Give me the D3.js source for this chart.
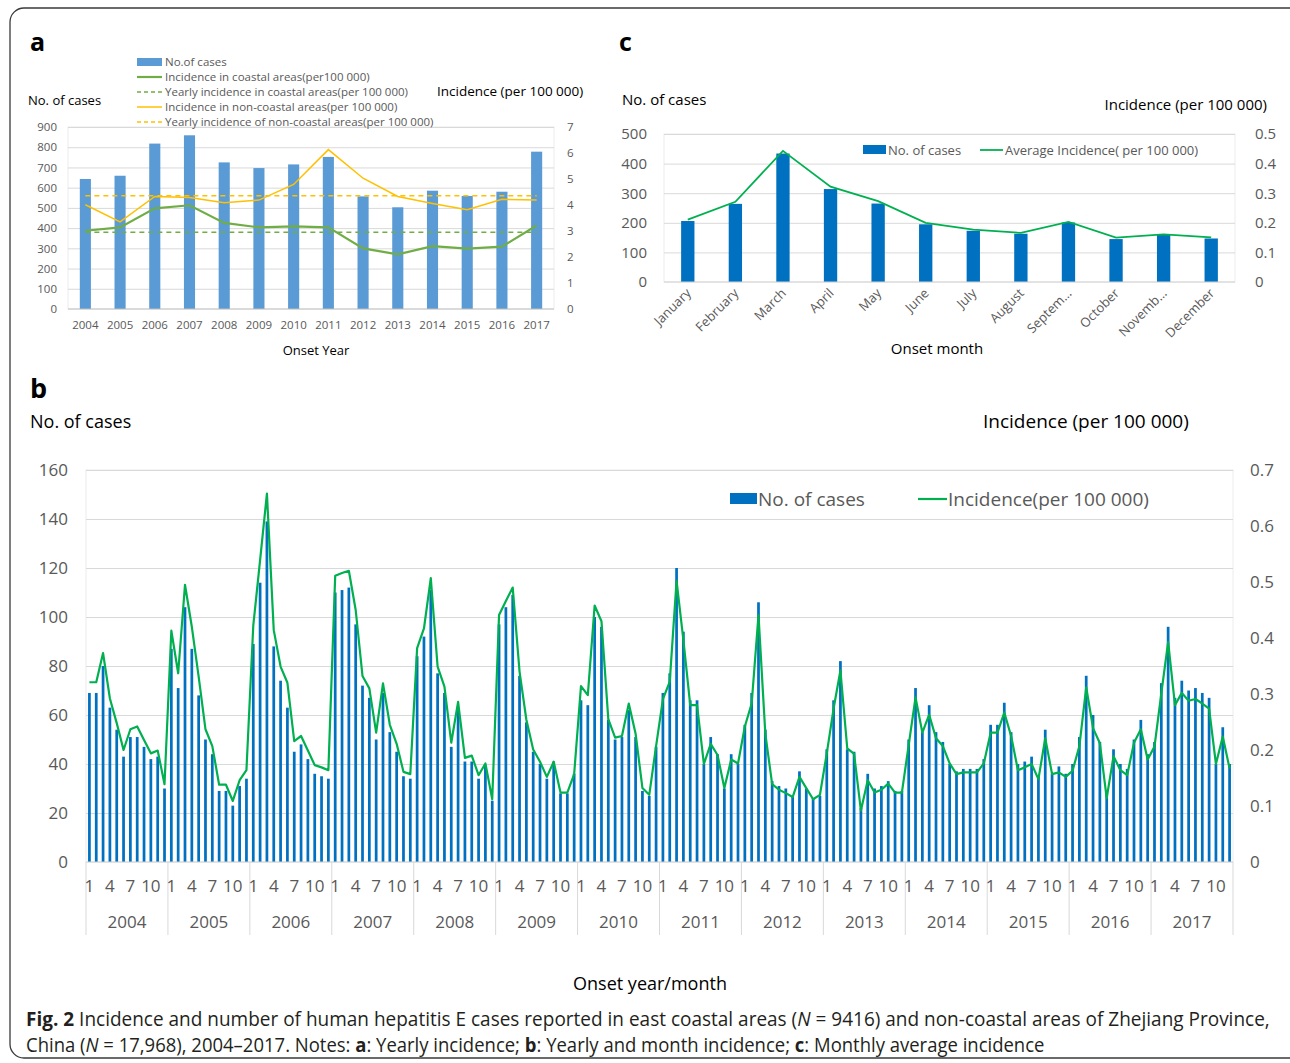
<!DOCTYPE html>
<html>
<head>
<meta charset="utf-8">
<script src="https://cdn.jsdelivr.net/npm/d3@7"></script>
<style>
body { margin: 0; background: #fff; }
text { font-family: "Open Sans", sans-serif; }
</style>
</head>
<body>
<svg id="fig" width="1290" height="1063"></svg>
<script>
// ---- panel a: yearly ----
const years = [2004, 2005, 2006, 2007, 2008, 2009, 2010, 2011, 2012, 2013, 2014, 2015, 2016, 2017];
const yearlyCases = [643, 659, 818, 859, 725, 697, 715, 752, 557, 503, 585, 559, 580, 778];
const coastalInc = [3.01, 3.14, 3.87, 3.99, 3.31, 3.14, 3.18, 3.14, 2.33, 2.10, 2.42, 2.32, 2.40, 3.21];
const nonCoastalInc = [4.01, 3.35, 4.33, 4.29, 4.09, 4.19, 4.79, 6.13, 5.03, 4.33, 4.06, 3.82, 4.22, 4.19];
const coastalYearly = 2.95;
const nonCoastalYearly = 4.36;
const legendA = [
  'No.of cases',
  'Incidence in coastal areas(per100 000)',
  'Yearly incidence in coastal areas(per 100 000)',
  'Incidence in non-coastal areas(per 100 000)',
  'Yearly incidence of non-coastal areas(per 100 000)',
];

// ---- panel c: monthly average ----
const monthNames = ['January', 'February', 'March', 'April', 'May', 'June', 'July', 'August', 'Septem…', 'October', 'Novemb…', 'December'];
const avgCases = [206, 264, 434, 314, 265, 195, 173, 163, 201, 145, 159, 147];
const avgInc = [0.211, 0.271, 0.443, 0.322, 0.273, 0.200, 0.177, 0.166, 0.203, 0.150, 0.161, 0.151];

// ---- panel b: month by month, one row per year ----
const monthlyCases = [
  [69, 69, 80, 63, 54, 43, 51, 51, 47, 42, 43, 30],
  [87, 71, 104, 87, 68, 50, 44, 29, 29, 23, 31, 34],
  [89, 114, 139, 88, 74, 63, 45, 48, 42, 36, 35, 34],
  [110, 111, 112, 97, 72, 67, 50, 69, 53, 45, 35, 34],
  [84, 92, 111, 77, 69, 47, 62, 41, 41, 34, 39, 25],
  [97, 104, 109, 76, 57, 45, 40, 34, 41, 28, 28, 36],
  [66, 64, 100, 96, 58, 50, 51, 62, 51, 29, 27, 47],
  [69, 77, 120, 94, 66, 66, 40, 51, 44, 30, 44, 40],
  [56, 69, 106, 54, 33, 31, 30, 27, 37, 30, 26, 27],
  [46, 66, 82, 46, 45, 22, 36, 30, 31, 33, 29, 29],
  [50, 71, 53, 64, 53, 49, 40, 37, 38, 38, 38, 42],
  [56, 56, 65, 53, 40, 41, 43, 35, 54, 36, 39, 36],
  [40, 51, 76, 60, 49, 29, 46, 40, 38, 50, 58, 44],
  [49, 73, 96, 67, 74, 70, 71, 69, 67, 40, 55, 40],
];
const monthlyInc = [
  [0.321, 0.321, 0.373, 0.292, 0.248, 0.200, 0.237, 0.242, 0.218, 0.194, 0.199, 0.139],
  [0.413, 0.337, 0.495, 0.420, 0.331, 0.237, 0.207, 0.138, 0.138, 0.109, 0.146, 0.164],
  [0.422, 0.539, 0.658, 0.414, 0.349, 0.320, 0.216, 0.225, 0.199, 0.173, 0.169, 0.164],
  [0.511, 0.516, 0.520, 0.450, 0.332, 0.310, 0.231, 0.319, 0.245, 0.211, 0.161, 0.157],
  [0.382, 0.417, 0.507, 0.349, 0.313, 0.213, 0.286, 0.186, 0.190, 0.155, 0.176, 0.112],
  [0.441, 0.466, 0.490, 0.340, 0.254, 0.201, 0.179, 0.152, 0.179, 0.124, 0.124, 0.157],
  [0.314, 0.298, 0.458, 0.430, 0.255, 0.222, 0.225, 0.283, 0.229, 0.132, 0.120, 0.207],
  [0.291, 0.322, 0.502, 0.396, 0.280, 0.280, 0.175, 0.211, 0.191, 0.132, 0.183, 0.176],
  [0.242, 0.283, 0.441, 0.229, 0.139, 0.129, 0.123, 0.116, 0.152, 0.132, 0.112, 0.120],
  [0.194, 0.274, 0.342, 0.203, 0.193, 0.092, 0.146, 0.124, 0.129, 0.140, 0.124, 0.124],
  [0.209, 0.294, 0.231, 0.263, 0.221, 0.207, 0.176, 0.157, 0.160, 0.160, 0.160, 0.176],
  [0.231, 0.231, 0.267, 0.225, 0.164, 0.169, 0.175, 0.148, 0.221, 0.157, 0.160, 0.152],
  [0.163, 0.207, 0.312, 0.239, 0.212, 0.114, 0.189, 0.164, 0.155, 0.213, 0.237, 0.183],
  [0.206, 0.301, 0.393, 0.280, 0.302, 0.288, 0.291, 0.283, 0.274, 0.175, 0.224, 0.167],
];
const monthTicks = [1, 4, 7, 10];

const svg = d3.select('#fig');
const gridColor = '#d9d9d9';
const labelColor = '#595959';

function styleAxis(g, size) {
  g.select('.domain').remove();
  g.selectAll('text').attr('fill', labelColor).style('font-size', size + 'px');
}

function drawGrid(g, y, values, left, right) {
  g.append('g')
    .attr('transform', `translate(${left},0)`)
    .call(d3.axisLeft(y).tickValues(values).tickSize(-(right - left)).tickFormat(''))
    .call((a) => a.select('.domain').remove())
    .selectAll('line').attr('stroke', gridColor);
}

function drawFrame(g, left, right, top, bottom) {
  g.append('rect')
    .attr('x', left).attr('y', top)
    .attr('width', right - left).attr('height', bottom - top)
    .attr('fill', 'none').attr('stroke', '#ececec');
}

function panelA() {
  const left = 68, right = 554, top = 127, bottom = 309;
  const g = svg.append('g');
  const x = d3.scaleBand().domain(years).range([left, right]).paddingInner(0.68).paddingOuter(0.34);
  const cx = (yr) => x(yr) + x.bandwidth() / 2;
  const y = d3.scaleLinear().domain([0, 900]).range([bottom, top]);
  const y2 = d3.scaleLinear().domain([0, 7]).range([bottom, top]);

  drawFrame(g, left, right, top, bottom);
  drawGrid(g, y, d3.range(100, 901, 100), left, right);

  g.selectAll('.barA').data(years).enter().append('rect')
    .attr('x', (d) => x(d))
    .attr('y', (d, i) => y(yearlyCases[i]))
    .attr('width', x.bandwidth())
    .attr('height', (d, i) => bottom - y(yearlyCases[i]))
    .attr('fill', '#5b9bd5');

  g.append('line').attr('x1', left).attr('x2', right).attr('y1', bottom).attr('y2', bottom).attr('stroke', '#bfbfbf');

  const line = (vals) => d3.line().x((d, i) => cx(years[i])).y((d) => y2(d))(vals);
  g.append('path').attr('d', line(years.map(() => coastalYearly)))
    .attr('fill', 'none').attr('stroke', '#70ad47').attr('stroke-width', 1.5).attr('stroke-dasharray', '5,4');
  g.append('path').attr('d', line(years.map(() => nonCoastalYearly)))
    .attr('fill', 'none').attr('stroke', '#ffc000').attr('stroke-width', 1.5).attr('stroke-dasharray', '5,4');
  g.append('path').attr('d', line(nonCoastalInc))
    .attr('fill', 'none').attr('stroke', '#ffc000').attr('stroke-width', 1.5);
  g.append('path').attr('d', line(coastalInc))
    .attr('fill', 'none').attr('stroke', '#70ad47').attr('stroke-width', 2.2);

  g.append('g').attr('transform', `translate(${left},0)`)
    .call(d3.axisLeft(y).tickValues(d3.range(0, 901, 100)).tickSize(0).tickPadding(11))
    .call((a) => styleAxis(a, 11.5));
  g.append('g').attr('transform', `translate(${right},0)`)
    .call(d3.axisRight(y2).tickValues(d3.range(0, 8)).tickSize(0).tickPadding(13).tickFormat(d3.format('d')))
    .call((a) => styleAxis(a, 11.5));
  g.append('g').attr('transform', `translate(0,${bottom})`)
    .call(d3.axisBottom(x).tickSize(0).tickPadding(12))
    .call((a) => styleAxis(a, 11.5));

  g.append('text').attr('x', 28).attr('y', 105).style('font-size', '13px').text('No. of cases');
  g.append('text').attr('x', 437).attr('y', 96).style('font-size', '13.5px').text('Incidence (per 100 000)');
  g.append('text').attr('x', 316).attr('y', 355).attr('text-anchor', 'middle').style('font-size', '13px').text('Onset Year');
  g.append('text').attr('x', 30).attr('y', 51).style('font-size', '25px').style('font-weight', 'bold').text('a');

  // legend
  const styles = [
    { type: 'rect', color: '#5b9bd5' },
    { type: 'line', color: '#70ad47', width: 2.2 },
    { type: 'line', color: '#70ad47', width: 1.5, dash: '4,3' },
    { type: 'line', color: '#ffc000', width: 1.5 },
    { type: 'line', color: '#ffc000', width: 1.5, dash: '4,3' },
  ];
  legendA.forEach((label, i) => {
    const yy = 62 + i * 15;
    const s = styles[i];
    if (s.type === 'rect') {
      g.append('rect').attr('x', 137).attr('y', yy - 4).attr('width', 25).attr('height', 8).attr('fill', s.color);
    } else {
      g.append('line').attr('x1', 137).attr('x2', 162).attr('y1', yy).attr('y2', yy)
        .attr('stroke', s.color).attr('stroke-width', s.width).attr('stroke-dasharray', s.dash || null);
    }
    g.append('text').attr('x', 165).attr('y', yy + 4).attr('fill', labelColor).style('font-size', '11.5px').text(label);
  });
}

function panelC() {
  const left = 664, right = 1235, top = 134, bottom = 282;
  const g = svg.append('g');
  const x = d3.scaleBand().domain(monthNames).range([left, right]).paddingInner(0.72).paddingOuter(0.36);
  const cx = (m) => x(m) + x.bandwidth() / 2;
  const y = d3.scaleLinear().domain([0, 500]).range([bottom, top]);
  const y2 = d3.scaleLinear().domain([0, 0.5]).range([bottom, top]);

  drawFrame(g, left, right, top, bottom);
  drawGrid(g, y, d3.range(100, 501, 100), left, right);

  g.selectAll('.barC').data(monthNames).enter().append('rect')
    .attr('x', (d) => x(d))
    .attr('y', (d, i) => y(avgCases[i]))
    .attr('width', x.bandwidth())
    .attr('height', (d, i) => bottom - y(avgCases[i]))
    .attr('fill', '#0070c0');
  g.append('line').attr('x1', left).attr('x2', right).attr('y1', bottom).attr('y2', bottom).attr('stroke', '#d0d0d0');

  g.append('path')
    .attr('d', d3.line().x((d, i) => cx(monthNames[i])).y((d) => y2(d))(avgInc))
    .attr('fill', 'none').attr('stroke', '#00b050').attr('stroke-width', 1.8);

  g.append('g').attr('transform', `translate(${left},0)`)
    .call(d3.axisLeft(y).tickValues(d3.range(0, 501, 100)).tickSize(0).tickPadding(17))
    .call((a) => styleAxis(a, 15));
  g.append('g').attr('transform', `translate(${right},0)`)
    .call(d3.axisRight(y2).tickValues(d3.range(0, 0.51, 0.1)).tickSize(0).tickPadding(20)
      .tickFormat((d) => (d === 0 ? '0' : d3.format('.1f')(d))))
    .call((a) => styleAxis(a, 15));

  g.selectAll('.mlab').data(monthNames).enter().append('text')
    .attr('transform', (d) => `translate(${cx(d) + 4},${bottom + 12}) rotate(-45)`)
    .attr('text-anchor', 'end')
    .attr('fill', labelColor)
    .style('font-size', '13px')
    .text((d) => d);

  g.append('text').attr('x', 622).attr('y', 105).style('font-size', '15px').text('No. of cases');
  g.append('text').attr('x', 1267).attr('y', 110).attr('text-anchor', 'end').style('font-size', '15px').text('Incidence (per 100 000)');
  g.append('text').attr('x', 937).attr('y', 354).attr('text-anchor', 'middle').style('font-size', '15px').text('Onset month');
  g.append('text').attr('x', 619).attr('y', 51).style('font-size', '25px').style('font-weight', 'bold').text('c');

  g.append('rect').attr('x', 863).attr('y', 145).attr('width', 23).attr('height', 9).attr('fill', '#0070c0');
  g.append('text').attr('x', 888).attr('y', 155).attr('fill', labelColor).style('font-size', '13px').text('No. of cases');
  g.append('line').attr('x1', 980).attr('x2', 1003).attr('y1', 150).attr('y2', 150).attr('stroke', '#00b050').attr('stroke-width', 1.8);
  g.append('text').attr('x', 1005).attr('y', 155).attr('fill', labelColor).style('font-size', '13px').text('Average Incidence( per 100 000)');
}

function panelB() {
  const left = 86, right = 1233, top = 470, bottom = 862;
  const g = svg.append('g');
  const series = [];
  years.forEach((yr, yi) => {
    monthlyCases[yi].forEach((c, mi) => {
      series.push({ key: `${yr}-${mi + 1}`, month: mi + 1, cases: c, inc: monthlyInc[yi][mi] });
    });
  });
  const x = d3.scaleBand().domain(series.map((d) => d.key)).range([left, right]).paddingInner(0.6).paddingOuter(0.3);
  const cx = (k) => x(k) + x.bandwidth() / 2;
  const xYear = d3.scaleBand().domain(years).range([left, right]);
  const y = d3.scaleLinear().domain([0, 160]).range([bottom, top]);
  const y2 = d3.scaleLinear().domain([0, 0.7]).range([bottom, top]);

  drawFrame(g, left, right, top, bottom);
  drawGrid(g, y, d3.range(20, 161, 20), left, right);

  g.selectAll('.barB').data(series).enter().append('rect')
    .attr('x', (d) => x(d.key))
    .attr('y', (d) => y(d.cases))
    .attr('width', x.bandwidth())
    .attr('height', (d) => bottom - y(d.cases))
    .attr('fill', '#0070c0');

  g.append('path')
    .attr('d', d3.line().x((d) => cx(d.key)).y((d) => y2(d.inc))(series))
    .attr('fill', 'none').attr('stroke', '#00b050').attr('stroke-width', 2.2).attr('stroke-linejoin', 'round');

  g.append('line').attr('x1', left).attr('x2', right).attr('y1', bottom).attr('y2', bottom).attr('stroke', '#d0d0d0');

  // year separators below the axis
  const bounds = years.map((yr) => xYear(yr)).concat([right]);
  g.selectAll('.sep').data(bounds).enter().append('line')
    .attr('x1', (d) => d).attr('x2', (d) => d)
    .attr('y1', bottom).attr('y2', bottom + 73)
    .attr('stroke', gridColor);

  g.append('g').attr('transform', `translate(${left},0)`)
    .call(d3.axisLeft(y).tickValues(d3.range(0, 161, 20)).tickSize(0).tickPadding(18))
    .call((a) => styleAxis(a, 17));
  g.append('g').attr('transform', `translate(${right},0)`)
    .call(d3.axisRight(y2).tickValues(d3.range(0, 0.71, 0.1)).tickSize(0).tickPadding(17)
      .tickFormat((d) => (d === 0 ? '0' : d3.format('.1f')(d))))
    .call((a) => styleAxis(a, 17));

  g.append('g').attr('transform', `translate(0,${bottom})`)
    .call(d3.axisBottom(x)
      .tickValues(series.filter((d) => monthTicks.includes(d.month)).map((d) => d.key))
      .tickFormat((k) => k.split('-')[1])
      .tickSize(0).tickPadding(18))
    .call((a) => styleAxis(a, 17));
  g.append('g').attr('transform', `translate(0,${bottom + 36})`)
    .call(d3.axisBottom(xYear).tickSize(0).tickPadding(18))
    .call((a) => styleAxis(a, 17));

  g.append('text').attr('x', 30).attr('y', 428).style('font-size', '18px').text('No. of cases');
  g.append('text').attr('x', 983).attr('y', 428).style('font-size', '19px').text('Incidence (per 100 000)');
  g.append('text').attr('x', 650).attr('y', 990).attr('text-anchor', 'middle').style('font-size', '18px').text('Onset year/month');
  g.append('text').attr('x', 30).attr('y', 398).style('font-size', '27px').style('font-weight', 'bold').text('b');

  g.append('rect').attr('x', 730).attr('y', 493).attr('width', 27).attr('height', 11).attr('fill', '#0070c0');
  g.append('text').attr('x', 758).attr('y', 506).attr('fill', labelColor).style('font-size', '19px').text('No. of cases');
  g.append('line').attr('x1', 918).attr('x2', 947).attr('y1', 499).attr('y2', 499).attr('stroke', '#00b050').attr('stroke-width', 2.2);
  g.append('text').attr('x', 948).attr('y', 506).attr('fill', labelColor).style('font-size', '19px').text('Incidence(per 100 000)');
}

// caption line, squeezed horizontally to the reference width
function captionLine(y, width, parts) {
  const g = svg.append('g');
  const t = g.append('text').attr('x', 0).attr('y', 0).attr('fill', '#231f20').style('font-size', '20px');
  parts.forEach(([txt, style]) => {
    const s = t.append('tspan').text(txt);
    if (style === 'b') s.style('font-weight', 'bold');
    if (style === 'i') s.style('font-style', 'italic');
  });
  const w = t.node().getComputedTextLength();
  g.attr('transform', `translate(26,${y}) scale(${width / w},1)`);
}

function frameAndCaption() {
  svg.append('rect').attr('x', 10).attr('y', 8).attr('width', 1300).attr('height', 1050).attr('rx', 14)
    .attr('fill', 'none').attr('stroke', '#3a3a3a').attr('stroke-width', 1.3);

  captionLine(1026, 1244, [
    ['Fig. 2', 'b'],
    [' Incidence and number of human hepatitis E cases reported in east coastal areas ('],
    ['N', 'i'],
    [' = 9416) and non-coastal areas of Zhejiang Province,'],
  ]);
  captionLine(1052, 1019, [
    ['China ('],
    ['N', 'i'],
    [' = 17,968), 2004–2017. Notes: '],
    ['a', 'b'],
    [': Yearly incidence; '],
    ['b', 'b'],
    [': Yearly and month incidence; '],
    ['c', 'b'],
    [': Monthly average incidence'],
  ]);
}

panelA();
panelC();
panelB();
frameAndCaption();
</script>
</body>
</html>
